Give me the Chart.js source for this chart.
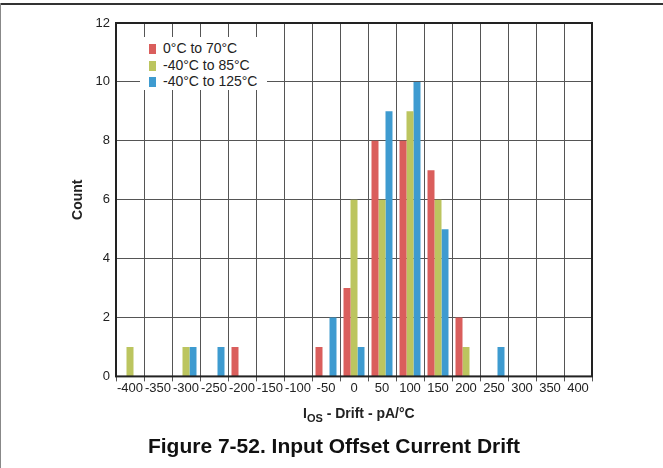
<!DOCTYPE html>
<html>
<head>
<meta charset="utf-8">
<script src="https://cdn.jsdelivr.net/npm/chart.js@4/dist/chart.umd.min.js"></script>
<style>
   body { margin: 0; background: #fff; }
   #wrap { position: relative; width: 663px; height: 468px; font-family: "Liberation Sans", Arial, sans-serif; color: #222; }
   #chart { position: absolute; left: 0; top: 0; }
   #topLine { position: absolute; left: 0; top: 3px; width: 663px; height: 2px; background: #333; }
   #leftLine { position: absolute; left: 0; top: 3px; width: 1px; height: 465px; background: #888; }
   #legend { position: absolute; left: 140px; top: 37px; width: 127px; height: 53px; background: #fff; font-size: 14px; }
   #legend .item { position: absolute; left: 9px; height: 16px; line-height: 16px; white-space: nowrap; }
   #legend .box { display: inline-block; width: 7px; height: 10px; margin-right: 7px; vertical-align: -1px; }
   #xTitle { position: absolute; left: 303px; top: 405px; font-size: 14px; line-height: 16px; font-weight: bold; white-space: nowrap; }
   #xTitle sub { font-size: 11px; line-height: 0; vertical-align: -4px; }
</style>
</head>
<body>
<div id="wrap">
   <canvas id="chart" width="663" height="468"></canvas>
   <div id="topLine"></div>
   <div id="leftLine"></div>
   <div id="legend"></div>
   <div id="xTitle">I<sub>OS</sub> - Drift - pA/°C</div>
</div>
<script>
   // drift bins (pA/°C)
   var categories = [-400, -350, -300, -250, -200, -150, -100, -50, 0, 50, 100, 150, 200, 250, 300, 350, 400];

   var seriesNames = ["0°C to 70°C", "-40°C to 85°C", "-40°C to 125°C"];
   var count0to70 = [0, 0, 0, 0, 1, 0, 0, 1, 3, 8, 8, 7, 2, 0, 0, 0, 0];
   var countM40to85 = [1, 0, 1, 0, 0, 0, 0, 0, 6, 6, 9, 6, 1, 0, 0, 0, 0];
   var countM40to125 = [0, 0, 1, 1, 0, 0, 0, 2, 1, 9, 10, 5, 0, 1, 0, 0, 0];

   var yMin = 0;
   var yMax = 12;
   var yStep = 2;

   var colors = ["#da5e5c", "#bcc55f", "#3e9bd0"];
   var family = "'Liberation Sans', Arial, sans-serif";

   var seriesData = [count0to70, countM40to85, countM40to125];
   var datasets = [];
   for (let i = 0; i < seriesNames.length; i++) {
      datasets.push({
         label: seriesNames[i],
         data: seriesData[i],
         backgroundColor: colors[i],
         borderWidth: 0,
         categoryPercentage: 0.75,
         barPercentage: 1.0,
      });
   }

   // legend sits inside the plot, on a white box
   var legend = document.getElementById("legend");
   for (let i = 0; i < seriesNames.length; i++) {
      var item = document.createElement("div");
      item.className = "item";
      item.style.top = (3 + i * 16.5) + "px";
      item.innerHTML = '<span class="box" style="background:' + colors[i] + '"></span>' + seriesNames[i];
      legend.appendChild(item);
   }

   // dark frame around the plot area
   var frame = {
      id: "frame",
      afterDraw: function (chart) {
         var a = chart.chartArea;
         var c = chart.ctx;
         c.save();
         c.strokeStyle = "#222";
         c.lineWidth = 2;
         c.strokeRect(a.left, a.top, a.right - a.left, a.bottom - a.top);
         c.restore();
      },
   };

   var ctx = document.getElementById("chart").getContext("2d");
   var chart = new Chart(ctx, {
      type: "bar",
      data: {
         labels: categories,
         datasets: datasets,
      },
      options: {
         responsive: false,
         animation: false,
         layout: { padding: { left: 76, right: 71, top: 23, bottom: 8 } },
         plugins: {
            legend: { display: false },
            tooltip: { enabled: false },
            title: {
               display: true,
               position: "bottom",
               text: "Figure 7-52. Input Offset Current Drift",
               color: "#111",
               padding: 0,
               font: { size: 21, weight: "bold", family: family },
            },
         },
         scales: {
            x: {
               offset: true,
               grid: { offset: true, color: "#555", lineWidth: 1, drawTicks: true, tickLength: 5 },
               border: { display: false },
               ticks: {
                  autoSkip: false,
                  maxRotation: 0,
                  minRotation: 0,
                  padding: -1,
                  color: "#222",
                  font: { size: 13, family: family },
               },
               afterFit: function (scale) {
                  scale.height = 58.4;
               },
            },
            y: {
               min: yMin,
               max: yMax,
               grid: { color: "#555", lineWidth: 1, drawTicks: false },
               border: { display: false },
               ticks: {
                  stepSize: yStep,
                  padding: 6,
                  color: "#222",
                  font: { size: 13, family: family },
               },
               title: {
                  display: true,
                  text: "Count",
                  color: "#222",
                  padding: { top: -6, bottom: 4 },
                  font: { size: 14, weight: "bold", family: family },
               },
               afterFit: function (scale) {
                  scale.width = 40;
               },
            },
         },
      },
      plugins: [frame],
   });
</script>
</body>
</html>
